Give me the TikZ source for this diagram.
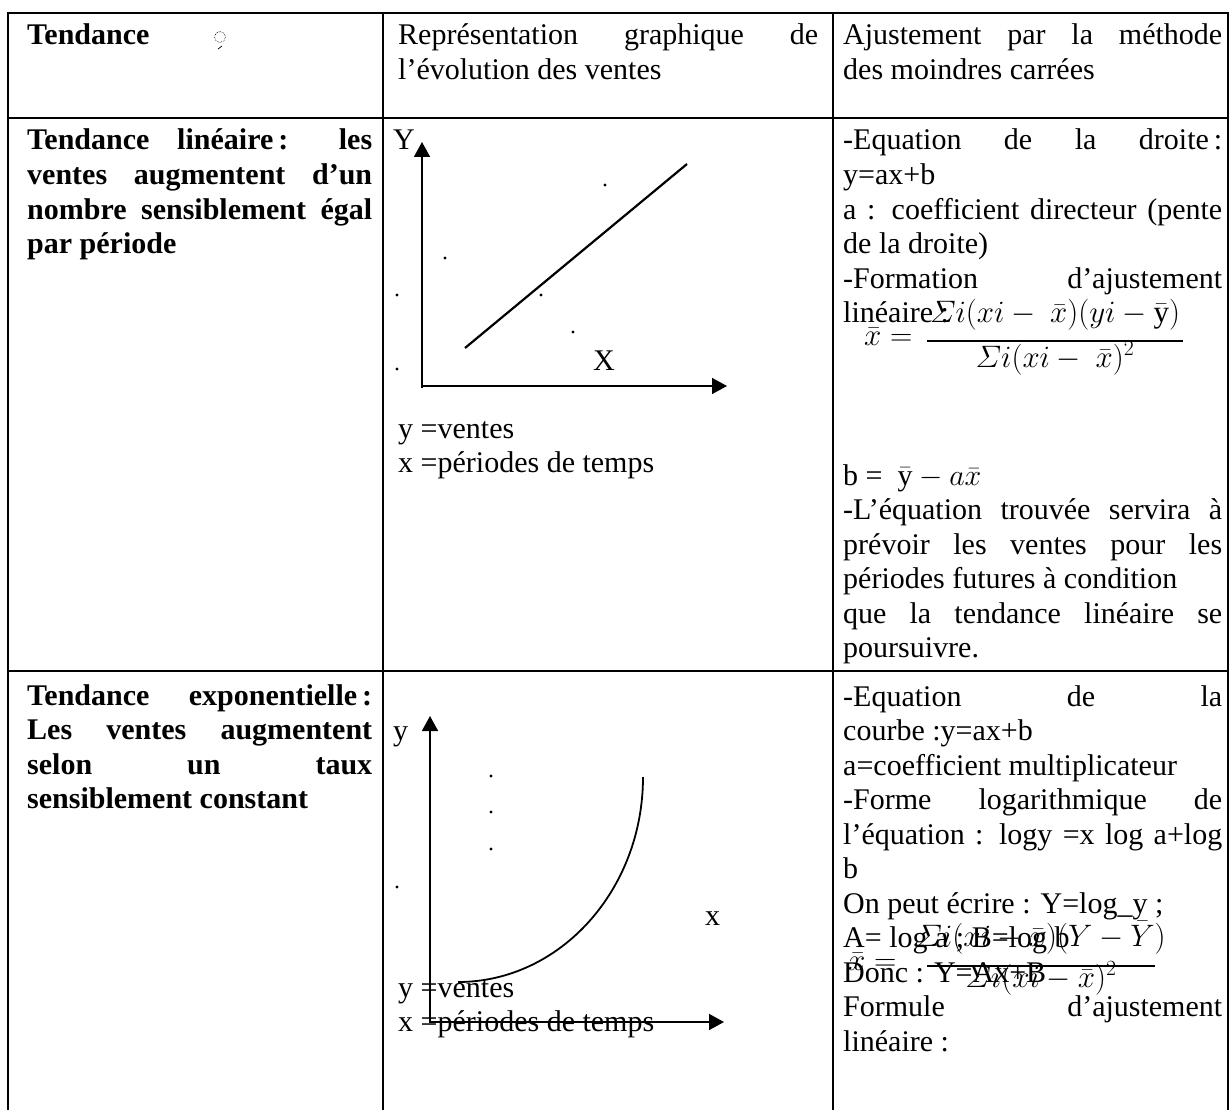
\RequirePackage{fix-cm}
\documentclass[tikz,border=0pt]{standalone}
\usepackage{fontspec}
\setmainfont{Liberation Serif}
\usetikzlibrary{arrows.meta}
\tolerance=10000
\hbadness=10000
\hfuzz=60pt
\hyphenpenalty=10000
\exhyphenpenalty=10000
\newcommand\isig{\mathnormal{\Sigma}}

\begin{document}
\begin{tikzpicture}[x=1pt,y=-1pt,
  txt/.style={inner sep=0pt, anchor=base west, font={\fontsize{30}{34.5}\selectfont}},
  cell/.style={txt, align=justify},
  cellb/.style={cell, font={\fontsize{30}{34.5}\selectfont\bfseries}},
  mth/.style={inner sep=0pt, anchor=base, font={\fontsize{31}{34}\selectfont}},
  grid/.style={line width=2.2pt},
  axis/.style={line width=1.6pt, -{Triangle[length=15pt,width=16pt]}},
  bar/.style={line width=2pt},
]
\useasboundingbox (0,0) rectangle (1230,1110);

% table rules
\draw[grid] (8,1110) -- (8,13) -- (1228,13) -- (1228,1110);
\draw[grid] (383,13) -- (383,1110);
\draw[grid] (833,13) -- (833,1110);
\draw[grid] (8,118) -- (1228,118);
\draw[grid] (8,671) -- (1228,671);

% header row
\node[cellb, text width=345pt] (h1) at (27,45) {Tendance};
\draw[densely dotted, line width=0.6pt] (220,37) circle (5.5);
\draw[line width=0.7pt] (218,49) -- (222,46);
\node[cell, text width=420pt] (h2) at (398,45) {Représentation graphique de\linebreak l’évolution des ventes};
\node[cell, text width=379pt] (h3) at (843,45) {Ajustement par la méthode\linebreak des moindres carrées};

% row 1 : linear trend
\node[cellb, text width=345pt] (r1a) at (27,150) {Tendance linéaire\,: les\linebreak ventes augmentent d’un\linebreak nombre sensiblement égal\linebreak par période};

\node[txt] (r1y) at (393,150) {Y};
\node[txt] (r1x) at (593,370) {X};
\coordinate (yt1) at (422,142);
\coordinate (xt1) at (727,386);
\draw[axis] (422,388) -- (yt1);
\draw[axis] (421,386) -- (xt1);
\coordinate (la) at (465,348);
\coordinate (lb) at (687,164);
\draw[line width=2.2pt] (la) -- (lb);
\foreach \p in {(605,185),(445,258),(397,295),(541,295),(573,332),(397,369)}
  \fill \p circle (1.7);
\node[txt] (r1v) at (398,438) {y =ventes};
\node[txt] (r1p) at (398,472) {x =périodes de temps};

\node[cell, text width=379pt] (r1c) at (843,150) {-Equation de la droite\,:\linebreak y=ax+b\newline a : coefficient directeur (pente\linebreak de la droite)\newline -Formation d’ajustement\linebreak linéaire :};
\node[mth, anchor=base west] (f1x) at (864,345) {$\bar{x} =$};
\node[mth] (f1n) at (1055,322) {$\isig i(xi -\ \bar{x})(yi - \bar{\mathrm{y}})$};
\node[mth] (f1d) at (1055,367) {$\isig i(xi -\ \bar{x})^2$};
\draw[bar] (927,341) -- (1183,341);
\node[cell, text width=379pt] (r1d) at (843,485) {b = \ $\bar{\mathrm{y}} - a\bar{x}$\newline -L’équation trouvée servira à\linebreak prévoir les ventes pour les\linebreak périodes futures à condition\newline que la tendance linéaire se\linebreak poursuivre.};

% row 2 : exponential trend
\node[cellb, text width=345pt] (r2a) at (27,705) {Tendance exponentielle\,:\linebreak Les ventes augmentent\linebreak selon un taux\linebreak sensiblement constant};

\node[txt] (r2y) at (393,740) {y};
\node[txt] (r2x) at (705,925) {x};
\coordinate (yt2) at (430,716);
\coordinate (xt2) at (724,1022);
\draw[axis] (430,1023) -- (yt2);
\draw[axis] (429,1022) -- (xt2);
\coordinate (ca) at (643,777);
\coordinate (cb) at (458,982);
\draw[line width=1.8pt] (ca) .. controls (643,890) and (560,982) .. (cb);
\foreach \p in {(491,776),(491,812),(491,849),(397,887)}
  \fill \p circle (1.7);
\node[txt] (r2v) at (398,997) {y =ventes};
\node[txt] (r2p) at (398,1031) {x =périodes de temps};

\node[cell, text width=379pt] (r2c) at (843,706) {-Equation de la\linebreak courbe :y=ax+b\newline a=coefficient multiplicateur\newline -Forme logarithmique de\linebreak l’équation : logy =x log a+log\linebreak b\newline On peut écrire : Y=log\_y ;\newline A= log a ; B=log b\newline Donc : Y=Ax+B\newline Formule d’ajustement\linebreak linéaire :};
\node[mth, anchor=base west] (f2x) at (848,970) {$\bar{x} =$};
\node[mth] (f2n) at (1041,946) {$\isig i(xi - \bar{x})(Y - \bar{Y})$};
\node[mth] (f2d) at (1041,987) {$\isig i(xi - \bar{x})^2$};
\draw[bar] (927,966) -- (1155,966);
\end{tikzpicture}
\end{document}
